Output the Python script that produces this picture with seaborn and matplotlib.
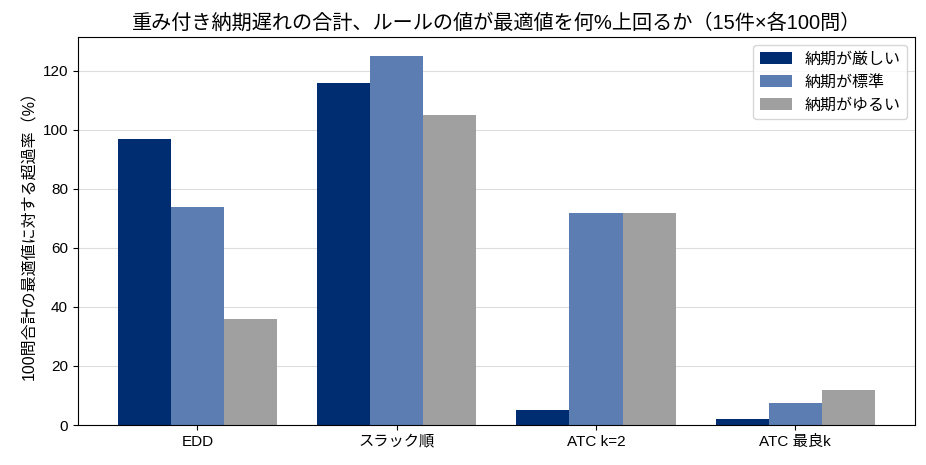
import seaborn as sns
import matplotlib.pyplot as plt
import pandas as pd

# data
rules = ['EDD', 'スラック順', 'ATC k=2', 'ATC 最良k']
conditions = ['納期が厳しい', '納期が標準', '納期がゆるい']
tight = [96.8, 115.8, 5.1, 2.0]
standard = [73.8, 125.0, 72.0, 7.5]
loose = [35.9, 105.0, 72.0, 11.9]
colors = ['#002d72', '#5b7db1', '#a0a0a0']

df = pd.DataFrame({
    'rule': rules * 3,
    'cond': [conditions[0]] * 4 + [conditions[1]] * 4 + [conditions[2]] * 4,
    'excess': tight + standard + loose,
})

# plain matplotlib look (outward ticks, black frame)
plt.rcParams['font.family'] = ['Liberation Sans', 'Noto Sans CJK JP', 'DejaVu Sans']

fig, ax = plt.subplots(figsize=(9.26, 4.65), dpi=100)
sns.barplot(data=df, x='rule', y='excess', hue='cond', palette=colors,
            saturation=1, width=0.8, linewidth=0, ax=ax)

ax.set_xlim(-0.6, 3.6)
ax.set_ylim(0, 131.4)
ax.set_yticks(range(0, 121, 20))
ax.yaxis.grid(True, color='#dddddd', linewidth=0.8)
ax.set_axisbelow(True)
ax.set_xlabel('')
ax.set_ylabel('100問合計の最適値に対する超過率（%）', fontsize=11.5)
ax.set_title('重み付き納期遅れの合計、ルールの値が最適値を何%上回るか（15件×各100問）', fontsize=14.5)
ax.tick_params(axis='both', labelsize=11)
ax.legend(loc='upper right', fontsize=11.5, title=None)

plt.subplots_adjust(left=0.084, right=0.988, top=0.92, bottom=0.086)
plt.savefig('out.png', dpi=100)
